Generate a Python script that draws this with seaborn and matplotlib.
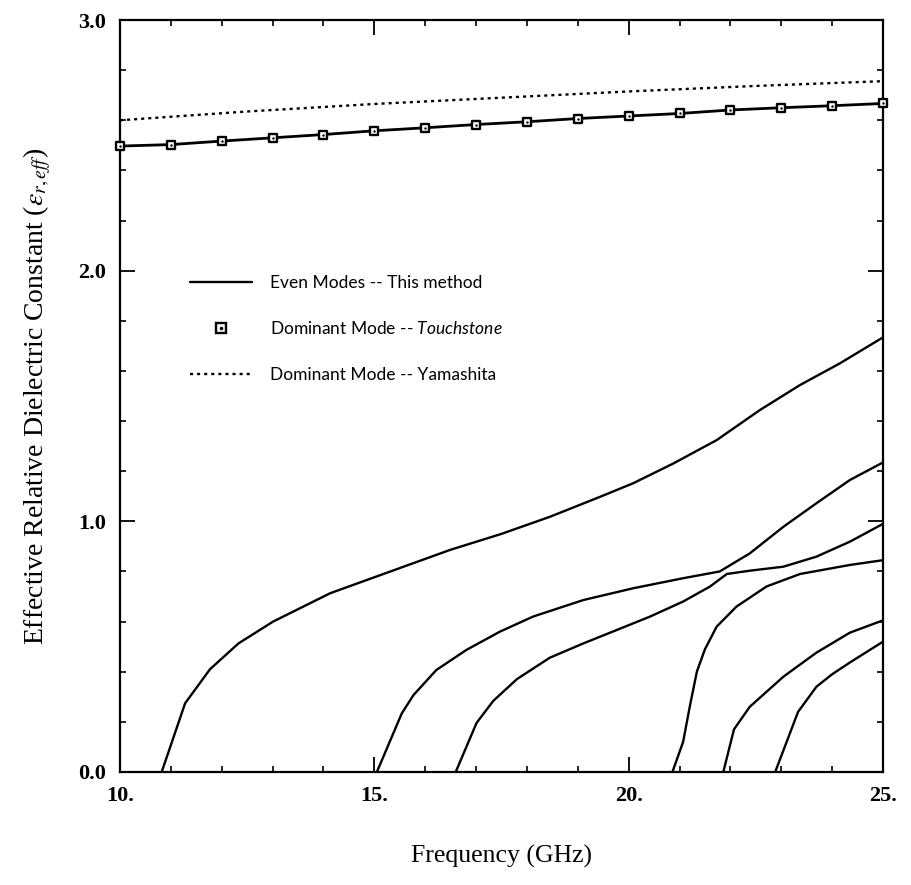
import numpy as np
import pandas as pd
import matplotlib
matplotlib.use("Agg")
import matplotlib.pyplot as plt
from matplotlib.font_manager import FontProperties
from matplotlib.ticker import MultipleLocator, FixedLocator, FixedFormatter
from matplotlib.lines import Line2D
import seaborn as sns

# ---------------- data ----------------
mode1_f = [10.82, 11.28, 11.77, 12.33, 13.01, 14.13, 15.18, 16.49, 17.5, 18.45, 19.44, 20.09, 20.88, 21.73, 22.58, 23.37, 24.15, 25.0]
mode1_v = [0.0, 0.274, 0.41, 0.513, 0.60, 0.713, 0.79, 0.886, 0.95, 1.018, 1.098, 1.152, 1.231, 1.324, 1.444, 1.544, 1.63, 1.734]

mode2_f = [15.05, 15.54, 15.77, 16.22, 16.81, 17.47, 18.12, 19.11, 20.09, 21.07, 21.79, 22.38, 23.04, 23.69, 24.35, 25.0]
mode2_v = [0.0, 0.234, 0.307, 0.407, 0.487, 0.56, 0.62, 0.686, 0.733, 0.773, 0.80, 0.872, 0.978, 1.072, 1.165, 1.235]

mode3_f = [16.6, 17.01, 17.34, 17.8, 18.45, 19.11, 19.76, 20.42, 21.07, 21.6, 21.93, 22.38, 23.04, 23.69, 24.35, 25.0]
mode3_v = [0.0, 0.196, 0.284, 0.37, 0.456, 0.513, 0.566, 0.62, 0.68, 0.74, 0.79, 0.803, 0.819, 0.859, 0.919, 0.99]

mode4_f = [20.86, 21.07, 21.2, 21.34, 21.5, 21.73, 22.12, 22.71, 23.37, 24.35, 25.0]
mode4_v = [0.0, 0.12, 0.26, 0.40, 0.49, 0.58, 0.66, 0.74, 0.79, 0.826, 0.845]

mode5_f = [21.86, 22.07, 22.38, 23.04, 23.69, 24.35, 25.0]
mode5_v = [0.0, 0.17, 0.26, 0.38, 0.476, 0.556, 0.605]

mode6_f = [22.88, 23.33, 23.69, 24.0, 24.35, 25.0]
mode6_v = [0.0, 0.24, 0.34, 0.39, 0.437, 0.52]

# dominant mode (this method, solid) and Touchstone markers
dom_f = [10, 11, 12, 13, 14, 15, 16, 17, 18, 19, 20, 21, 22, 23, 24, 25]
dom_v = [2.497, 2.503, 2.517, 2.530, 2.543, 2.558, 2.570, 2.583, 2.594, 2.607, 2.617, 2.627, 2.641, 2.650, 2.658, 2.667]
touch_f = dom_f
touch_v = dom_v

# dominant mode, Yamashita (dotted)
yam_f = [10, 12.5, 15, 17.5, 20, 22.5, 25]
yam_v = [2.60, 2.635, 2.665, 2.69, 2.715, 2.737, 2.756]

x_ticks = [10, 15, 20, 25]
x_ticklabels = ["10.", "15.", "20.", "25."]
y_ticks = [0, 1, 2, 3]
y_ticklabels = ["0.0", "1.0", "2.0", "3.0"]

legend_labels = ["Even Modes -- This method",
                 r"Dominant Mode -- $\it{Touchstone}$",
                 "Dominant Mode -- Yamashita"]
x_label = "Frequency (GHz)"
y_label = r"Effective Relative Dielectric Constant ($\epsilon_{r,eff}$)"

# ---------------- build tables ----------------
modes = []
for i, (f, v) in enumerate([(mode1_f, mode1_v), (mode2_f, mode2_v), (mode3_f, mode3_v),
                            (mode4_f, mode4_v), (mode5_f, mode5_v), (mode6_f, mode6_v),
                            (dom_f, dom_v)]):
    modes.append(pd.DataFrame({"f": f, "v": v, "mode": i}))
even_df = pd.concat(modes, ignore_index=True)
touch_df = pd.DataFrame({"f": touch_f, "v": touch_v})
yam_df = pd.DataFrame({"f": yam_f, "v": yam_v})

# ---------------- plot ----------------
sns.set_style("ticks")
plt.rcParams["font.family"] = ["Liberation Serif", "DejaVu Serif"]
plt.rcParams["text.color"] = "black"
plt.rcParams["axes.labelcolor"] = "black"
plt.rcParams["xtick.color"] = "black"
plt.rcParams["ytick.color"] = "black"
plt.rcParams["mathtext.fontset"] = "stix"
plt.rcParams["mathtext.it"] = "Lato:italic"
plt.rcParams["mathtext.rm"] = "Lato"

fig = plt.figure(figsize=(9.11, 8.85), dpi=100)
ax = fig.add_axes([0.1317, 0.1277, 0.9693 - 0.1317, 0.9774 - 0.1277])

# even modes
sub = even_df[even_df["mode"] < 6]
sns.lineplot(data=sub, x="f", y="v", units="mode", estimator=None, sort=False,
             color="black", linewidth=1.7, ax=ax)
sns.lineplot(data=even_df[even_df["mode"] == 6], x="f", y="v", estimator=None, sort=False,
             color="black", linewidth=2.0, ax=ax)
# Yamashita dotted
sns.lineplot(data=yam_df, x="f", y="v", estimator=None, sort=False, color="black",
             linewidth=1.7, linestyle=(0, (1.3, 1.7)), ax=ax)
# Touchstone markers: open squares with centre dot
sns.scatterplot(data=touch_df, x="f", y="v", marker="s", s=38, facecolor="white",
                edgecolor="black", linewidth=1.7, zorder=5, clip_on=False, ax=ax)
sns.scatterplot(data=touch_df, x="f", y="v", marker="o", s=3, color="black",
                linewidth=0, zorder=6, clip_on=False, ax=ax)

ax.set_xlim(10, 25)
ax.set_ylim(0, 3)

ax.xaxis.set_major_locator(FixedLocator(x_ticks))
ax.xaxis.set_major_formatter(FixedFormatter(x_ticklabels))
ax.xaxis.set_minor_locator(MultipleLocator(1))
ax.yaxis.set_major_locator(FixedLocator(y_ticks))
ax.yaxis.set_major_formatter(FixedFormatter(y_ticklabels))
ax.yaxis.set_minor_locator(MultipleLocator(0.2))

ax.tick_params(which="both", direction="in", top=True, right=True, colors="black")
ax.tick_params(which="major", length=11, width=1.3, labelsize=16, pad=10)
ax.tick_params(which="minor", length=4, width=1.2)
for lab in ax.get_xticklabels() + ax.get_yticklabels():
    lab.set_fontweight("bold")
for s in ax.spines.values():
    s.set_linewidth(1.6)
    s.set_color("black")

ax.set_xlabel(x_label, fontsize=18.5, labelpad=28)
ax.set_ylabel(y_label, fontsize=20, labelpad=18, math_fontfamily="stix")

# legend
h_line = Line2D([], [], color="black", linewidth=1.7)
h_sq = Line2D([], [], linestyle="none", marker="s", markersize=6.5, markerfacecolor="white",
              markeredgecolor="black", markeredgewidth=1.7)
h_dot = Line2D([], [], linestyle="none", marker="o", markersize=1.6, color="black")
h_dash = Line2D([], [], color="black", linewidth=1.7, linestyle=(0, (1.3, 1.7)))
leg_fp = FontProperties(family="Lato", size=12.5, math_fontfamily="custom")
leg = ax.legend([h_line, (h_sq, h_dot), h_dash], legend_labels, prop=leg_fp,
                frameon=False, loc="upper left", bbox_to_anchor=(0.071, 0.682),
                handlelength=3.6, handletextpad=1.0, labelspacing=1.7)

fig.savefig("out.png", dpi=100)
